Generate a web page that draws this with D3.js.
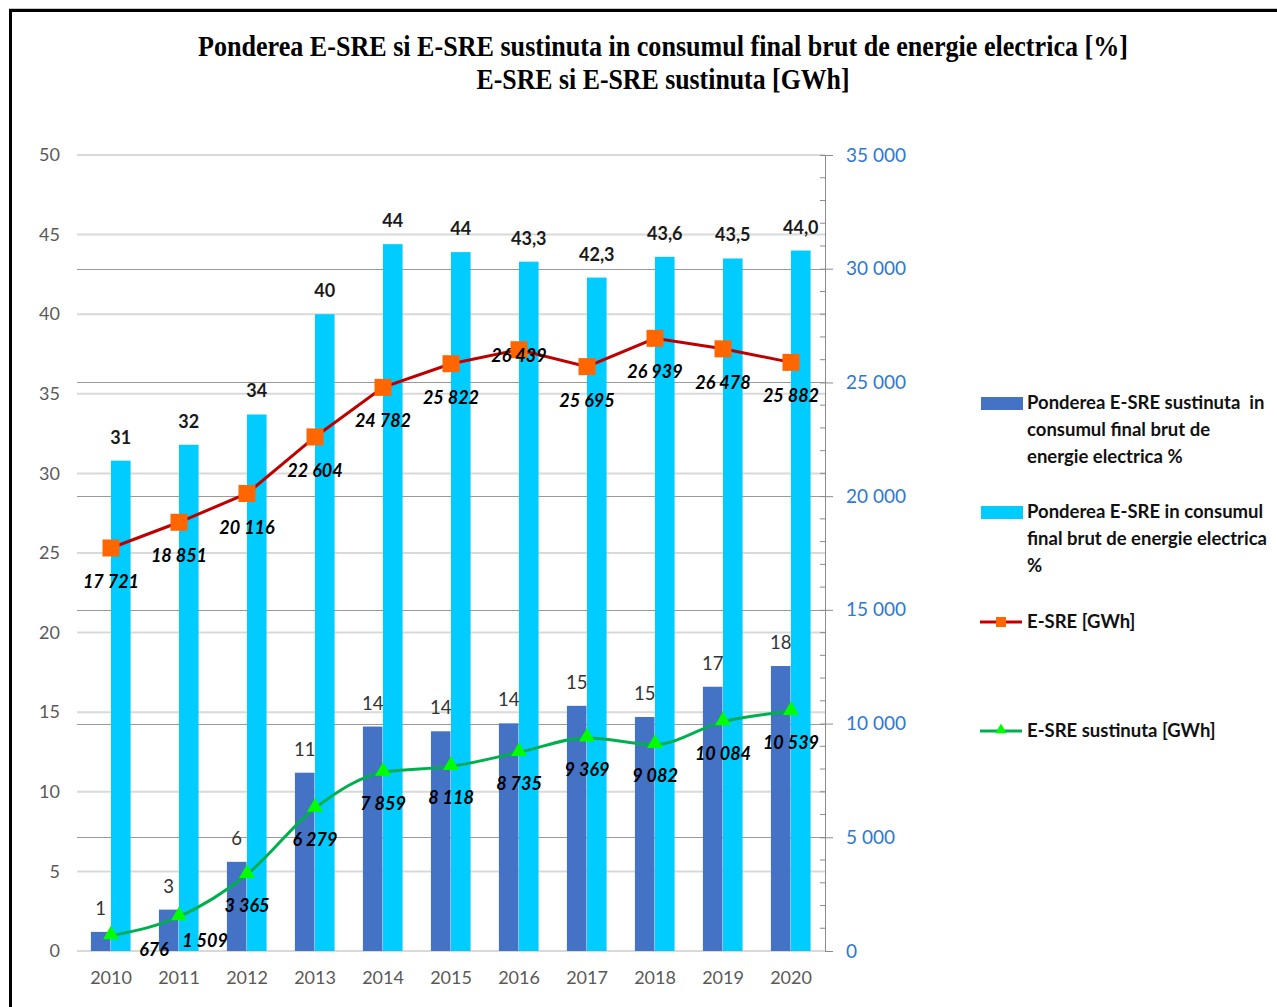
<!DOCTYPE html>
<html><head><meta charset="utf-8">
<script src="https://cdn.jsdelivr.net/npm/d3@7"></script>
<style>
html,body{margin:0;padding:0;background:#fff;}
svg{display:block;}
</style></head>
<body>
<svg id="chart" width="1277" height="1007"></svg>
<script>
// ---------------- DATA ----------------
const years = ["2010","2011","2012","2013","2014","2015","2016","2017","2018","2019","2020"];
const sharePctSustinuta = [1.2, 2.6, 5.6, 11.2, 14.1, 13.8, 14.3, 15.4, 14.7, 16.6, 17.9];
const sharePctTotal = [30.8, 31.8, 33.7, 40.0, 44.4, 43.9, 43.3, 42.3, 43.6, 43.5, 44.0];
const sharePctTotalLabels = ["31","32","34","40","44","44","43,3","42,3","43,6","43,5","44,0"];
const esreGWh = [17721, 18851, 20116, 22604, 24782, 25822, 26439, 25695, 26939, 26478, 25882];
const esreSustGWh = [676, 1509, 3365, 6279, 7859, 8118, 8735, 9369, 9082, 10084, 10539];
const leftTicks = [0, 5, 10, 15, 20, 25, 30, 35, 40, 45, 50];
const rightTicks = [0, 5000, 10000, 15000, 20000, 25000, 30000, 35000];
const titleLines = ["Ponderea E-SRE si E-SRE sustinuta in consumul final brut de energie electrica [%]",
                    "E-SRE si E-SRE sustinuta [GWh]"];
const legendItems = [
  {lines:["Ponderea E-SRE sustinuta\u00a0 in","consumul final brut de","energie electrica %"], type:"bar", color:"#4472C4"},
  {lines:["Ponderea E-SRE in consumul","final brut de energie electrica","%"], type:"bar", color:"#00CCFF"},
  {lines:["E-SRE [GWh]"], type:"sq"},
  {lines:["E-SRE sustinuta [GWh]"], type:"tri"}
];

// ---------------- LAYOUT ----------------
const svg = d3.select("#chart");
const W = 1277, H = 1007;
const plot = {left: 77, right: 825, top: 155, bottom: 951};
const FONT = "Lato, 'Open Sans', sans-serif";
const C = {dark:"#4472C4", light:"#00CCFF", red:"#C00000", orange:"#FF6600", green:"#00B050", tri:"#00FF00"};

const locale = d3.formatLocale({decimal:",", thousands:"\u00a0", grouping:[3], currency:["",""]});
const fmtK = locale.format(",d");

const x = d3.scaleBand().domain(years).range([plot.left, plot.right]).paddingInner(0).paddingOuter(0);
const yL = d3.scaleLinear().domain([0, 50]).range([plot.bottom, plot.top]);
const yR = d3.scaleLinear().domain([0, 35000]).range([plot.bottom, plot.top]);

svg.append("rect").attr("width", W).attr("height", H).attr("fill", "#fff");

// frame
svg.append("line").attr("x1", 9).attr("x2", W).attr("y1", 8.5).attr("y2", 8.5).attr("stroke", "#c8c8c8").attr("stroke-width", 1);
svg.append("rect").attr("x", 9).attr("y", 9).attr("width", W - 9).attr("height", 3).attr("fill", "#000");
svg.append("rect").attr("x", 9).attr("y", 9).attr("width", 3).attr("height", H - 9).attr("fill", "#000");

// title
titleLines.forEach((t, i) => {
  svg.append("text")
    .attr("x", 663).attr("y", i === 0 ? 56 : 89)
    .attr("text-anchor", "middle")
    .attr("font-family", "'Liberation Serif', 'Times New Roman', serif")
    .attr("font-weight", "bold")
    .attr("font-size", 29)
    .attr("textLength", i === 0 ? 930 : 373)
    .attr("lengthAdjust", "spacingAndGlyphs")
    .attr("fill", "#000")
    .text(t);
});

// left gridlines
svg.append("g").selectAll("line").data(leftTicks.filter(d => d > 0)).join("line")
  .attr("x1", plot.left).attr("x2", plot.right)
  .attr("y1", d => yL(d)).attr("y2", d => yL(d))
  .attr("stroke", "#D9D9D9").attr("stroke-width", 2);
// right gridlines
svg.append("g").selectAll("line").data(rightTicks.filter(d => d > 0 && d < 35000)).join("line")
  .attr("x1", plot.left).attr("x2", plot.right)
  .attr("y1", d => Math.round(yR(d)) + 0.5).attr("y2", d => Math.round(yR(d)) + 0.5)
  .attr("stroke", "#9A9A9A").attr("stroke-width", 1);

// left axis
const gL = svg.append("g").attr("transform", `translate(${plot.left},0)`)
  .call(d3.axisLeft(yL).tickValues(leftTicks).tickSize(0).tickPadding(17));
gL.select(".domain").remove();
gL.selectAll("text").attr("font-family", FONT).attr("font-size", 18).attr("fill", "#595959");

// right axis
const gR = svg.append("g").attr("transform", `translate(${plot.right},0)`)
  .call(d3.axisRight(yR).tickValues(rightTicks).tickSize(8).tickPadding(13).tickFormat(fmtK));
gR.select(".domain").attr("stroke", "#8C8C8C").attr("d", `M0.5,${plot.top}V${plot.bottom}`);
gR.selectAll(".tick line").attr("stroke", "#8C8C8C").attr("x1", -5);
gR.selectAll("text").attr("font-family", FONT).attr("font-size", 19).attr("fill", "#2F78D3");
// minor ticks every 1000
svg.append("g").selectAll("line").data(d3.range(1000, 35000, 1000).filter(d => d % 5000 !== 0)).join("line")
  .attr("x1", plot.right - 5).attr("x2", plot.right)
  .attr("y1", d => yR(d)).attr("y2", d => yR(d))
  .attr("stroke", "#8C8C8C").attr("stroke-width", 1);

// x axis line
svg.append("line").attr("x1", plot.left).attr("x2", plot.right)
  .attr("y1", plot.bottom).attr("y2", plot.bottom)
  .attr("stroke", "#D9D9D9").attr("stroke-width", 2);
const gX = svg.append("g").attr("transform", `translate(0,${plot.bottom})`)
  .call(d3.axisBottom(x).tickSize(0).tickPadding(20));
gX.select(".domain").remove();
gX.selectAll("text").attr("font-family", FONT).attr("font-size", 18).attr("fill", "#595959");

// bars
const bw = x.bandwidth() * 0.288;
const cx = d => x(d) + x.bandwidth() / 2;
svg.append("g").selectAll("rect").data(years).join("rect")
  .attr("x", (d) => cx(d) - bw - 0.5).attr("width", bw)
  .attr("y", (d, i) => yL(sharePctSustinuta[i])).attr("height", (d, i) => plot.bottom - yL(sharePctSustinuta[i]))
  .attr("fill", C.dark);
svg.append("g").selectAll("rect").data(years).join("rect")
  .attr("x", (d) => cx(d)).attr("width", bw)
  .attr("y", (d, i) => yL(sharePctTotal[i])).attr("height", (d, i) => plot.bottom - yL(sharePctTotal[i]))
  .attr("fill", C.light);

// bar labels
svg.append("g").selectAll("text").data(years).join("text")
  .attr("x", d => cx(d) - bw / 2 - 0.5).attr("y", (d, i) => yL(sharePctSustinuta[i]) - 17)
  .attr("text-anchor", "middle").attr("font-family", FONT).attr("font-size", 18.5)
  .attr("fill", "#333")
  .text((d, i) => d3.format(".0f")(sharePctSustinuta[i]));
svg.append("g").selectAll("text").data(years).join("text")
  .attr("x", d => cx(d) + bw / 2).attr("y", (d, i) => yL(sharePctTotal[i]) - 17)
  .attr("text-anchor", "middle").attr("font-family", FONT).attr("font-size", 18).attr("font-weight", "bold")
  .attr("fill", "#1a1a1a")
  .text((d, i) => sharePctTotalLabels[i]);

// lines
const lineR = d3.line().x((d, i) => cx(years[i])).y(d => yR(d));
svg.append("path").datum(esreGWh).attr("d", lineR).attr("fill", "none").attr("stroke", C.red).attr("stroke-width", 3);
svg.append("path").datum(esreSustGWh).attr("d", lineR.curve(d3.curveMonotoneX)).attr("fill", "none").attr("stroke", C.green).attr("stroke-width", 3);

// markers
const sq = 17;
svg.append("g").selectAll("rect").data(esreGWh).join("rect")
  .attr("x", (d, i) => cx(years[i]) - sq / 2).attr("y", d => yR(d) - sq / 2)
  .attr("width", sq).attr("height", sq).attr("fill", C.orange);
const triPath = d3.symbol().type(d3.symbolTriangle).size(110);
svg.append("g").selectAll("path").data(esreSustGWh).join("path")
  .attr("d", triPath)
  .attr("transform", (d, i) => `translate(${cx(years[i])},${yR(d) - 1})`)
  .attr("fill", C.tri);

// line labels
const redNudge = {6: [0, -28]};
const greenNudge = {0: [43, -18], 1: [26, -8]};
svg.append("g").selectAll("text").data(esreGWh).join("text")
  .attr("x", (d, i) => cx(years[i]) + (redNudge[i] ? redNudge[i][0] : 0))
  .attr("y", (d, i) => yR(d) + 40 + (redNudge[i] ? redNudge[i][1] : 0))
  .attr("text-anchor", "middle").attr("font-family", FONT).attr("font-size", 18)
  .attr("font-weight", "bold").attr("font-style", "italic").attr("fill", "#000")
  .text(d => fmtK(d));
svg.append("g").selectAll("text").data(esreSustGWh).join("text")
  .attr("x", (d, i) => cx(years[i]) + (greenNudge[i] ? greenNudge[i][0] : 0))
  .attr("y", (d, i) => yR(d) + 38 + (greenNudge[i] ? greenNudge[i][1] : 0))
  .attr("text-anchor", "middle").attr("font-family", FONT).attr("font-size", 18)
  .attr("font-weight", "bold").attr("font-style", "italic").attr("fill", "#000")
  .text(d => fmtK(d));

// legend
const legY = [403, 512, 622, 731];
const lg = svg.append("g");
legendItems.forEach((it, k) => {
  const y0 = legY[k];
  if (it.type === "bar") {
    lg.append("rect").attr("x", 981).attr("y", y0 - 6).attr("width", 42).attr("height", 13).attr("fill", it.color);
  } else if (it.type === "sq") {
    lg.append("line").attr("x1", 980).attr("x2", 1022).attr("y1", y0).attr("y2", y0).attr("stroke", C.red).attr("stroke-width", 3);
    lg.append("rect").attr("x", 996).attr("y", y0 - 5).attr("width", 10).attr("height", 10).attr("fill", C.orange);
  } else {
    lg.append("line").attr("x1", 980).attr("x2", 1022).attr("y1", y0).attr("y2", y0).attr("stroke", C.green).attr("stroke-width", 3);
    lg.append("path").attr("d", d3.symbol().type(d3.symbolTriangle).size(55)).attr("transform", `translate(1001,${y0 - 1})`).attr("fill", C.tri);
  }
  const t = lg.append("text").attr("font-family", FONT).attr("font-size", 18.5).attr("font-weight", "bold").attr("fill", "#111");
  it.lines.forEach((ln, j) => {
    t.append("tspan").attr("x", 1027).attr("y", y0 + 6 + j * 27).text(ln);
  });
});
</script>
</body></html>
